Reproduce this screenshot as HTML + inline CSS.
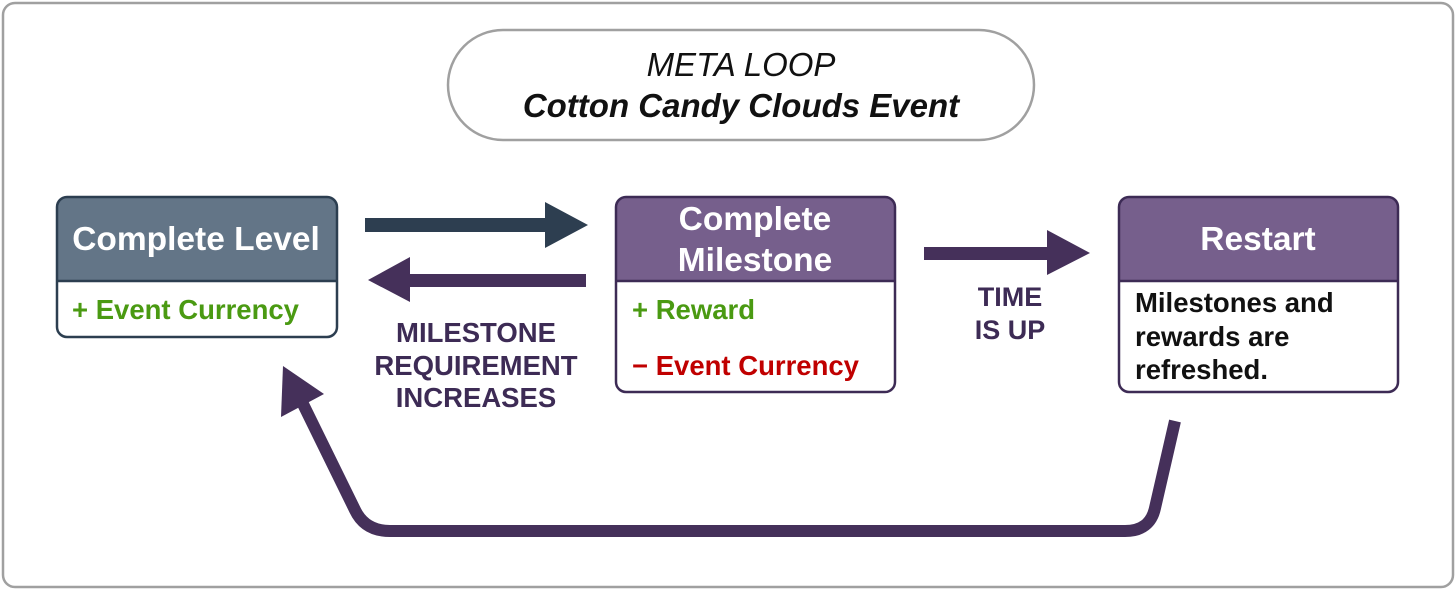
<!DOCTYPE html>
<html><head><style>
html,body{margin:0;padding:0;background:#fff}
svg{display:block}
text{font-family:"Liberation Sans",Arial,sans-serif}
</style></head><body>
<svg width="1456" height="590" viewBox="0 0 1456 590" xmlns="http://www.w3.org/2000/svg">
<rect x="3" y="3" width="1450" height="584" rx="12" fill="#fff" stroke="#a0a0a0" stroke-width="2.5"/>
<rect x="448" y="30" width="586" height="110" rx="55" fill="#fff" stroke="#a0a0a0" stroke-width="2.5"/>
<text x="741" y="76" font-size="33" font-style="italic" text-anchor="middle" fill="#111">META LOOP</text>
<text x="741" y="117" font-size="33" font-style="italic" font-weight="bold" text-anchor="middle" fill="#111">Cotton Candy Clouds Event</text>

<!-- Box 1 -->
<path d="M57,281 V207 a10,10 0 0 1 10,-10 H327 a10,10 0 0 1 10,10 V281 Z" fill="#637587"/>
<rect x="57" y="197" width="280" height="140" rx="10" fill="none" stroke="#2c3e50" stroke-width="2.5"/>
<line x1="57" y1="281" x2="337" y2="281" stroke="#2c3e50" stroke-width="2.5"/>
<text x="196" y="250" font-size="33.5" font-weight="bold" text-anchor="middle" fill="#fff">Complete Level</text>
<text x="72" y="319" font-size="27.5" font-weight="bold" fill="#4a9a12">+ Event Currency</text>

<!-- Box 2 -->
<path d="M616,281 V207 a10,10 0 0 1 10,-10 H885 a10,10 0 0 1 10,10 V281 Z" fill="#765f8c"/>
<rect x="616" y="197" width="279" height="195" rx="10" fill="none" stroke="#3d2b55" stroke-width="2.5"/>
<line x1="616" y1="281" x2="895" y2="281" stroke="#3d2b55" stroke-width="2.5"/>
<text x="755" y="230" font-size="33.5" font-weight="bold" text-anchor="middle" fill="#fff">Complete</text>
<text x="755" y="271" font-size="33.5" font-weight="bold" text-anchor="middle" fill="#fff">Milestone</text>
<text x="632" y="319" font-size="27.5" font-weight="bold" fill="#4a9a12">+ Reward</text>
<text x="632" y="375" font-size="27.5" font-weight="bold" fill="#c00000">− Event Currency</text>

<!-- Box 3 -->
<path d="M1119,281 V207 a10,10 0 0 1 10,-10 H1388 a10,10 0 0 1 10,10 V281 Z" fill="#765f8c"/>
<rect x="1119" y="197" width="279" height="195" rx="10" fill="none" stroke="#3d2b55" stroke-width="2.5"/>
<line x1="1119" y1="281" x2="1398" y2="281" stroke="#3d2b55" stroke-width="2.5"/>
<text x="1258" y="250" font-size="33.5" font-weight="bold" text-anchor="middle" fill="#fff">Restart</text>
<text x="1135" y="312" font-size="27.5" font-weight="bold" fill="#111">Milestones and</text>
<text x="1135" y="346" font-size="27.5" font-weight="bold" fill="#111">rewards are</text>
<text x="1135" y="379" font-size="27.5" font-weight="bold" fill="#111">refreshed.</text>

<!-- Arrows -->
<polygon points="365,218 545,218 545,202 588,225 545,248 545,232 365,232" fill="#2d3e50"/>
<polygon points="586,274 410,274 410,257 368,280 410,302 410,287 586,287" fill="#45305a"/>
<polygon points="924,247 1047,247 1047,230 1090,253 1047,275 1047,260 924,260" fill="#45305a"/>

<text x="476" y="342" font-size="27.5" font-weight="bold" text-anchor="middle" fill="#3d2b55">MILESTONE</text>
<text x="476" y="375" font-size="27.5" font-weight="bold" text-anchor="middle" fill="#3d2b55">REQUIREMENT</text>
<text x="476" y="407" font-size="27.5" font-weight="bold" text-anchor="middle" fill="#3d2b55">INCREASES</text>
<text x="1010" y="306" font-size="27" font-weight="bold" text-anchor="middle" fill="#3d2b55">TIME</text>
<text x="1010" y="339" font-size="27" font-weight="bold" text-anchor="middle" fill="#3d2b55">IS UP</text>

<path d="M1175,421 L1155,508 Q1150,531 1125,531 L390,531 Q365,531 355,510 L303,404" fill="none" stroke="#45305a" stroke-width="12"/>
<polygon points="283,366 281,417 324,394" fill="#45305a"/>
</svg>
</body></html>
